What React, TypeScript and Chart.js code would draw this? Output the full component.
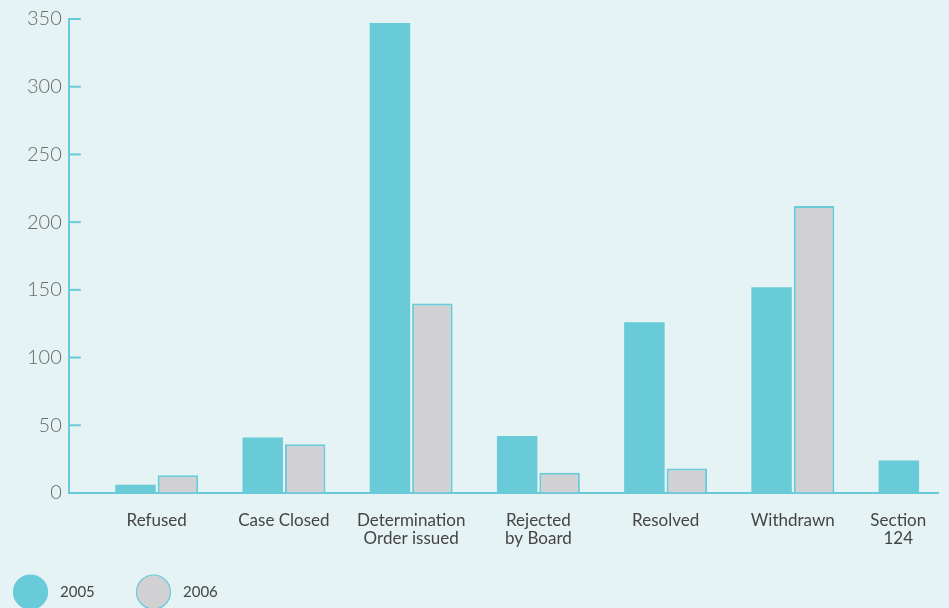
import React, { useEffect, useRef } from "react";
import Chart from "chart.js/auto";

const categories: (string | string[])[] = [
  "Refused",
  "Case Closed",
  ["Determination", "Order issued"],
  ["Rejected", "by Board"],
  "Resolved",
  "Withdrawn",
  ["Section          ", "124          "],
];
const values2005 = [6, 41, 347, 42, 126, 152, 24];
const values2006 = [13, 36, 140, 15, 18, 212, 0];
const seriesNames = ["2005", "2006"];
const yTicks = { min: 0, max: 350, step: 50 };

const TEAL = "#69cad8";
const GREY = "#d1d1d3";
const BG = "#e5f3f4";

export default function App() {
  const ref = useRef<HTMLCanvasElement | null>(null);

  useEffect(() => {
    const canvas = ref.current;
    if (!canvas) return;

    const innerTicks = {
      id: "innerTicks",
      afterDraw(chart: any) {
        const ctx = chart.ctx;
        const ys = chart.scales.y;
        const left = chart.chartArea.left;
        ctx.save();
        ctx.strokeStyle = TEAL;
        ctx.lineWidth = 2;
        ys.ticks.forEach((t: any) => {
          const y = ys.getPixelForValue(t.value);
          ctx.beginPath();
          ctx.moveTo(left, y);
          ctx.lineTo(left + 12, y);
          ctx.stroke();
        });
        ctx.restore();
      },
    };

    const customLegend = {
      id: "customLegend",
      afterDraw(chart: any) {
        const ctx = chart.ctx;
        ctx.save();
        const items = [
          { cx: 30.5, fill: TEAL, stroke: TEAL, tx: 60, label: seriesNames[0] },
          { cx: 153.5, fill: GREY, stroke: TEAL, tx: 183, label: seriesNames[1] },
        ];
        const cy = 592;
        items.forEach((it) => {
          ctx.beginPath();
          ctx.arc(it.cx, cy, 17, 0, Math.PI * 2);
          ctx.fillStyle = it.fill;
          ctx.fill();
          ctx.lineWidth = 1.2;
          ctx.strokeStyle = it.stroke;
          ctx.stroke();
          ctx.fillStyle = "#454545";
          ctx.font = "15px Lato";
          ctx.textBaseline = "middle";
          ctx.textAlign = "left";
          ctx.fillText(it.label, it.tx, cy);
        });
        ctx.restore();
      },
    };

    const chart = new Chart(canvas, {
      type: "bar",
      data: {
        datasets: [
          {
            label: seriesNames[0],
            data: values2005.map((v, i) => ({ x: i, y: v })),
            backgroundColor: TEAL,
            borderWidth: 0,
          },
          {
            label: seriesNames[1],
            data: values2006.map((v, i) => ({ x: i, y: v })),
            backgroundColor: GREY,
            borderColor: TEAL,
            borderWidth: 2,
          },
        ],
      },
      options: {
        animation: false,
        responsive: false,
        maintainAspectRatio: false,
        categoryPercentage: 0.6676,
        barPercentage: 0.953,
        layout: { padding: { left: 20, right: 62, top: 18, bottom: 41 } },
        plugins: { legend: { display: false }, tooltip: { enabled: false } },
        scales: {
          x: {
            type: "linear",
            offset: false,
            min: -0.691,
            max: 6.141,
            grid: { display: false, drawTicks: false },
            border: { display: true, color: TEAL, width: 2 },
            ticks: {
              stepSize: 1,
              includeBounds: false,
              autoSkip: false,
              maxRotation: 0,
              padding: 19,
              color: "#454545",
              font: { family: "Lato", size: 17, lineHeight: 1.06 },
              callback: (v: any) => {
                const n = Number(v);
                return Number.isInteger(n) && categories[n] !== undefined ? categories[n] : "";
              },
            },
          },
          y: {
            min: yTicks.min,
            max: yTicks.max,
            grid: { drawOnChartArea: false, drawTicks: false },
            border: { display: true, color: TEAL, width: 2 },
            ticks: {
              stepSize: yTicks.step,
              padding: 7,
              color: "#6a6a6a",
              font: { family: "Lato", size: 20, weight: "300" as any },
            },
          },
        },
      },
      plugins: [innerTicks, customLegend],
    } as any);

    return () => chart.destroy();
  }, []);

  return (
    <div
      style={{
        position: "fixed",
        left: 0,
        top: 0,
        width: 949,
        height: 608,
        overflow: "hidden",
        background: BG,
      }}
    >
      <canvas ref={ref} width={1000} height={608} style={{ display: "block", width: 1000, height: 608 }} />
    </div>
  );
}
